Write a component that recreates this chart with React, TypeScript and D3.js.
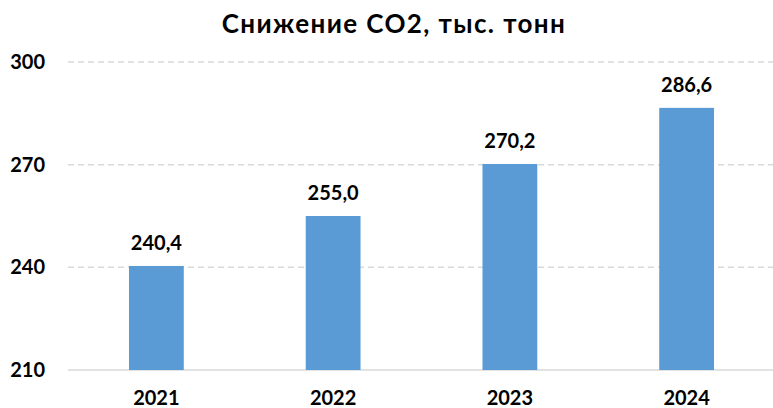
import * as d3 from 'd3';
import React from 'react';

const years = ['2021', '2022', '2023', '2024'];
const values = [240.4, 255.0, 270.2, 286.6];
const yTicks = [210, 240, 270, 300];
const title = 'Снижение СО2, тыс. тонн';

export default function App() {
    const width = 773;
    const height = 408;
    const font = 'Lato, "Open Sans", sans-serif';

    const x = d3.scaleBand<string>()
        .domain(years)
        .range([68, 775])
        .paddingInner(0.69)
        .paddingOuter(0.345);
    const y = d3.scaleLinear()
        .domain([210, 300])
        .range([370, 62]);

    const fmt = (v: number) => v.toFixed(1).replace('.', ',');

    return (
        <svg width={width} height={height}
            style={{ position: 'absolute', left: 0, top: 0, background: '#fff' }}
            fontFamily={font} fontWeight="bold">
            <text x={394} y={33} textAnchor="middle" fontSize={26} letterSpacing={1.4} fill="#000">{title}</text>
            {/* grid */}
            {yTicks.map(t => (
                <g key={t}>
                    <line x1={68} x2={773} y1={y(t)} y2={y(t)}
                        stroke="#d9d9d9" strokeWidth={1.5}
                        strokeDasharray={t === 210 ? undefined : '6,4'} />
                    <text x={45} y={y(t) + 7} textAnchor="end" fontSize={20} fill="#000">{t}</text>
                </g>
            ))}
            {/* bars */}
            {years.map((yr, i) => (
                <g key={yr}>
                    <rect x={x(yr)} y={y(values[i])} width={x.bandwidth()}
                        height={y(210) - y(values[i])} fill="#5b9bd5" />
                    <text x={x(yr)! + x.bandwidth() / 2} y={y(values[i]) - 16}
                        textAnchor="middle" fontSize={20} fill="#000">{fmt(values[i])}</text>
                    <text x={x(yr)! + x.bandwidth() / 2} y={405}
                        textAnchor="middle" fontSize={20} fill="#000">{yr}</text>
                </g>
            ))}
        </svg>
    );
}
